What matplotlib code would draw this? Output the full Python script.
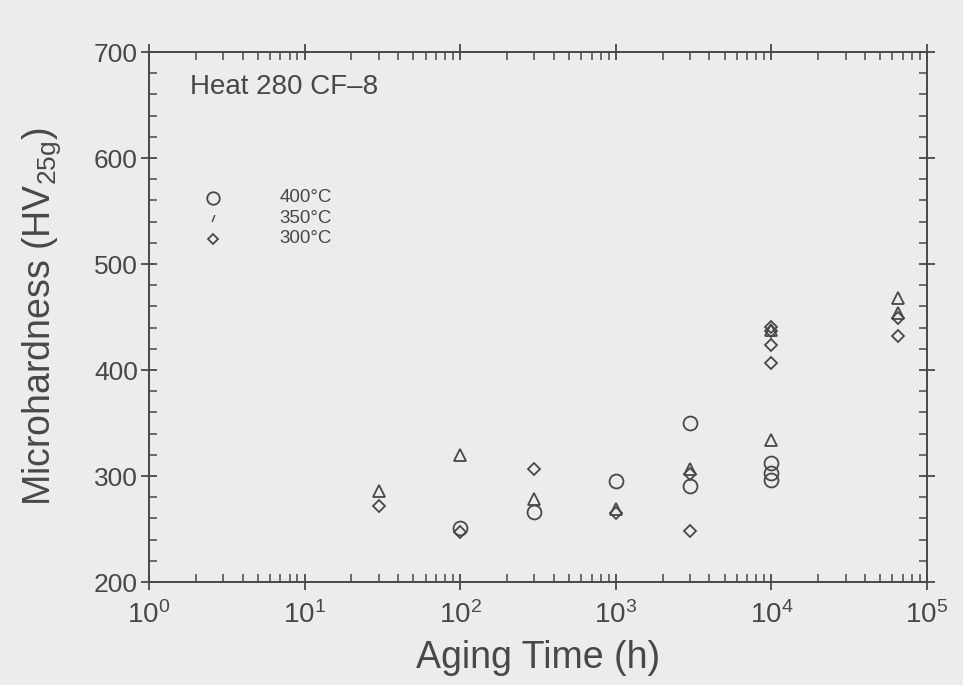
import matplotlib
matplotlib.use("Agg")
import matplotlib.pyplot as plt
from matplotlib.ticker import MultipleLocator, LogLocator, NullFormatter

plt.rcParams['font.family'] = ['Liberation Sans', 'DejaVu Sans']
plt.rcParams['mathtext.fontset'] = 'custom'
plt.rcParams['mathtext.rm'] = 'Liberation Sans'
plt.rcParams['mathtext.it'] = 'Liberation Sans:italic'
plt.rcParams['mathtext.default'] = 'regular'

# Aging time (h) and Vickers microhardness (HV 25 g) for each aging temperature
t_400 = [100, 300, 1000, 3000, 3000, 10000, 10000, 10000]
hv_400 = [251, 266, 295, 350, 291, 312, 303, 296]

t_350 = [30, 100, 300, 1000, 3000, 10000, 10000, 65000, 65000]
hv_350 = [286, 320, 278, 269, 307, 334, 438, 468, 454]

t_300 = [30, 100, 300, 1000, 3000, 3000, 10000, 10000, 10000, 10000, 65000, 65000]
hv_300 = [272, 247, 307, 265, 302, 248, 441, 437, 424, 407, 449, 432]

legend_labels = ['400°C', '350°C', '300°C']

ink = '#484848'
bg = '#ececea'

fig = plt.figure(figsize=(9.63, 6.85), dpi=100, facecolor=bg)
ax = fig.add_axes([149/963, 1 - 582/685, 778/963, 530/685], facecolor=bg)

mk = dict(linestyle='none', markerfacecolor='none', markeredgecolor=ink, markeredgewidth=1.3)
ax.plot(t_400, hv_400, marker='o', markersize=10, **mk)
ax.plot(t_350, hv_350, marker='^', markersize=9, **mk)
ax.plot(t_300, hv_300, marker='D', markersize=6.5, **mk)

ax.set_xscale('log')
ax.set_xlim(1, 1e5)
ax.set_ylim(200, 700)

ax.yaxis.set_major_locator(MultipleLocator(100))
ax.yaxis.set_minor_locator(MultipleLocator(20))
ax.xaxis.set_major_locator(LogLocator(base=10, numticks=10))
ax.xaxis.set_minor_locator(LogLocator(base=10, subs=range(2, 10), numticks=10))
ax.xaxis.set_minor_formatter(NullFormatter())

for s in ax.spines.values():
    s.set_color(ink)
    s.set_linewidth(1.4)

ax.tick_params(which='major', direction='inout', length=12, width=1.3, color=ink,
               top=True, right=True, labelsize=19, labelcolor=ink)
ax.tick_params(which='minor', direction='in', length=6, width=1.1, color=ink,
               top=True, right=True)
ax.tick_params(axis='x', which='major', pad=8, labelsize=20)
ax.tick_params(axis='y', which='major', pad=2)

ax.set_xlabel('Aging Time (h)', fontsize=27, color=ink, labelpad=8)
ax.set_ylabel('Microhardness (HV$_{25g}$)', fontsize=27, color=ink, labelpad=22)

ax.text(0.053, 0.934, 'Heat 280 CF\u20138', transform=ax.transAxes, fontsize=20,
        color=ink, ha='left', va='center')

# Key for the aging temperatures
key_y = [0.725, 0.686, 0.648]
ax.plot([0.082], [key_y[0]], transform=ax.transAxes, marker='o', markersize=9, **mk)
ax.plot([0.082], [key_y[1]], transform=ax.transAxes,
        marker=[(-0.4, -1.0), (0.4, 1.0)], markersize=5, linestyle='none',
        markeredgecolor=ink, markeredgewidth=1.0, markerfacecolor='none')
ax.plot([0.082], [key_y[2]], transform=ax.transAxes, marker='D', markersize=5, **mk)
for y, lab in zip(key_y, legend_labels):
    ax.text(0.168, y, lab, transform=ax.transAxes, fontsize=13.5, color=ink,
            ha='left', va='center')

fig.savefig('out.png', dpi=100, facecolor=bg)
